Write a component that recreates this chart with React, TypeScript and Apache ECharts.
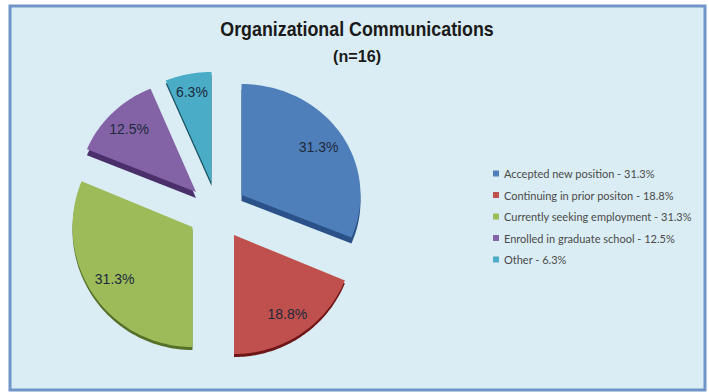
import React, { useEffect, useRef } from "react";
import * as echarts from "echarts";

const categories = [
  "Accepted new position - 31.3%",
  "Continuing in prior positon - 18.8%",
  "Currently seeking employment - 31.3%",
  "Enrolled in graduate school - 12.5%",
  "Other - 6.3%",
];
const values = [31.3, 18.8, 31.3, 12.5, 6.3];
const colors = ["#4f7fba", "#c0504d", "#9dbb58", "#8462a6", "#4aacc6"];
const sideColors = ["#2a5288", "#6e1518", "#56702a", "#4a2f6b", "#17505f"];
const layout = [
  { cx: 241.5, cy: 195, rx: 119, ry: 111, depth: 6, labelR: 0.78 },
  { cx: 234, cy: 235, rx: 120, ry: 119, depth: 3, labelR: 0.8 },
  { cx: 192.5, cy: 227, rx: 120, ry: 120, depth: 3, labelR: 0.78 },
  { cx: 196, cy: 192, rx: 118, ry: 112, depth: 6, labelR: 0.8 },
  { cx: 211.5, cy: 183, rx: 119, ry: 111, depth: 3, labelR: 0.84 },
];

const total = values.reduce((a, b) => a + b, 0);

function sectorPoints(i: number, start: number, end: number, dy: number) {
  const l = layout[i];
  const pts: number[][] = [[l.cx, l.cy + dy]];
  const steps = 60;
  for (let k = 0; k <= steps; k++) {
    const a = start + ((end - start) * k) / steps;
    pts.push([l.cx + l.rx * Math.sin(a), l.cy + dy - l.ry * Math.cos(a)]);
  }
  return pts;
}

function makeSeries(i: number) {
  const before = values.slice(0, i).reduce((a, b) => a + b, 0);
  return {
    type: "custom",
    name: categories[i],
    coordinateSystem: "none",
    itemStyle: { color: colors[i] },
    data: [values[i]],
    renderItem: (_p: any, api: any) => {
      const v = api.value(0);
      const start = (before / total) * Math.PI * 2;
      const end = ((before + v) / total) * Math.PI * 2;
      const mid = (start + end) / 2;
      const l = layout[i];
      return {
        type: "group",
        children: [
          {
            type: "polygon",
            shape: { points: sectorPoints(i, start, end, l.depth) },
            style: { fill: sideColors[i] },
          },
          {
            type: "polygon",
            shape: { points: sectorPoints(i, start, end, 0) },
            style: { fill: colors[i] },
          },
          {
            type: "text",
            style: {
              text: v.toFixed(1) + "%",
              x: l.cx + l.rx * l.labelR * Math.sin(mid),
              y: l.cy - l.ry * l.labelR * Math.cos(mid),
              align: "center",
              verticalAlign: "middle",
              fill: "#1c2a3c",
              font: '14px "Liberation Sans"',
            },
          },
        ],
      };
    },
  };
}

export default function App() {
  const ref = useRef<HTMLDivElement>(null);
  useEffect(() => {
    document.body.style.margin = "0";
    const chart = echarts.init(ref.current!, undefined, { renderer: "svg" });
    chart.setOption({
      animation: false,
      backgroundColor: "#ffffff",
      graphic: [
        {
          type: "rect",
          z: -10,
          shape: { x: 10, y: 6, width: 695, height: 384 },
          style: { fill: "#daedf4", stroke: "#6f95c8", lineWidth: 3 },
        },
        {
          type: "text",
          x: 357,
          y: 28,
          scaleX: 0.85,
          style: {
            text: "Organizational Communications",
            align: "center",
            verticalAlign: "middle",
            fill: "#1a1a1a",
            font: 'bold 21px "Liberation Sans"',
          },
        },
        {
          type: "text",
          x: 357,
          y: 56,
          scaleX: 0.95,
          style: {
            text: "(n=16)",
            align: "center",
            verticalAlign: "middle",
            fill: "#1a1a1a",
            font: 'bold 17px "Liberation Sans"',
          },
        },
      ],
      legend: {
        orient: "vertical",
        left: 488,
        top: 163,
        itemWidth: 6,
        itemHeight: 6,
        itemGap: 10.5,
        icon: "rect",
        data: categories,
        selectedMode: false,
        textStyle: { fontFamily: "Lato", fontSize: 11, color: "#4a4a4a" },
      },
      series: values.map((_, i) => makeSeries(i)),
    });
    return () => chart.dispose();
  }, []);
  return <div ref={ref} style={{ width: 709, height: 392 }} />;
}
